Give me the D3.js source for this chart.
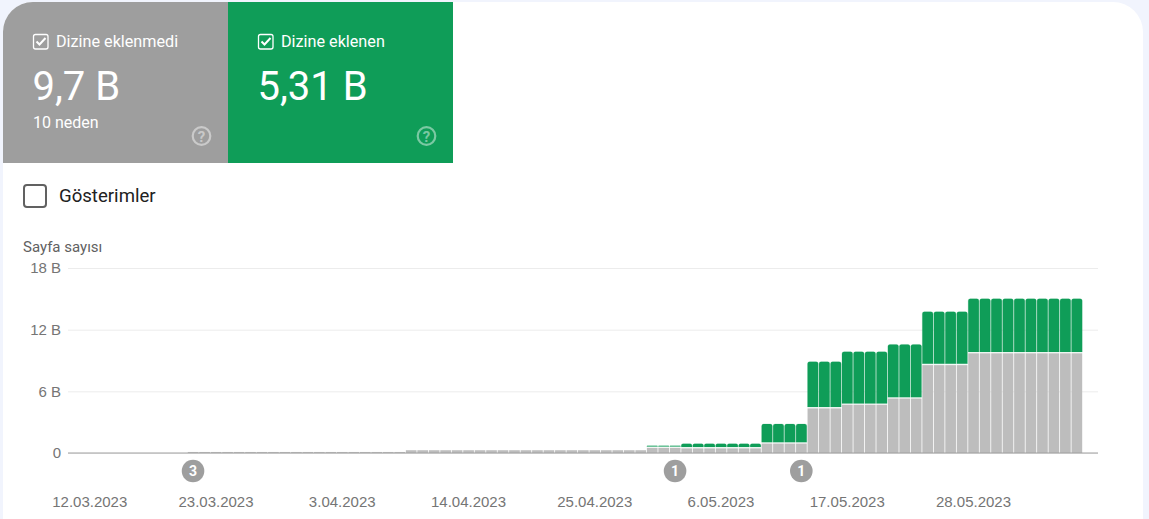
<!DOCTYPE html>
<html lang="tr">
<head>
    <meta charset="UTF-8">
    <title>Sayfa dizine ekleme</title>
    <script src="https://d3js.org/d3.v7.min.js"></script>
    <style>
        html, body { margin: 0; padding: 0; background: #f1f4fd; overflow: hidden; }
        svg { display: block; font-family: Roboto, sans-serif; }
        .y-axis text, .x-axis text { fill: #757575; font-size: 15px; }
        .y-axis line { stroke: #ececec; }
        .y-axis path, .x-axis path, .x-axis line { display: none; }
    </style>
</head>
<body>
    <svg width="1149" height="519"></svg>
    <script>
        // gunluk degerler, milyar (B), 12.03.2023 - 6.06.2023
        const days = [
            "12.03.2023","13.03.2023","14.03.2023","15.03.2023","16.03.2023","17.03.2023","18.03.2023","19.03.2023",
            "20.03.2023","21.03.2023","22.03.2023","23.03.2023","24.03.2023","25.03.2023","26.03.2023","27.03.2023",
            "28.03.2023","29.03.2023","30.03.2023","31.03.2023","1.04.2023","2.04.2023","3.04.2023","4.04.2023",
            "5.04.2023","6.04.2023","7.04.2023","8.04.2023","9.04.2023","10.04.2023","11.04.2023","12.04.2023",
            "13.04.2023","14.04.2023","15.04.2023","16.04.2023","17.04.2023","18.04.2023","19.04.2023","20.04.2023",
            "21.04.2023","22.04.2023","23.04.2023","24.04.2023","25.04.2023","26.04.2023","27.04.2023","28.04.2023",
            "29.04.2023","30.04.2023","1.05.2023","2.05.2023","3.05.2023","4.05.2023","5.05.2023","6.05.2023",
            "7.05.2023","8.05.2023","9.05.2023","10.05.2023","11.05.2023","12.05.2023","13.05.2023","14.05.2023",
            "15.05.2023","16.05.2023","17.05.2023","18.05.2023","19.05.2023","20.05.2023","21.05.2023","22.05.2023",
            "23.05.2023","24.05.2023","25.05.2023","26.05.2023","27.05.2023","28.05.2023","29.05.2023","30.05.2023",
            "31.05.2023","1.06.2023","2.06.2023","3.06.2023","4.06.2023","5.06.2023","6.06.2023"
        ];
        const notIndexed = [
            0,0,0,0,0,0,0,0,0,
            0.1,0.1,0.1,0.1,0.1,0.1,0.1,0.1,0.1,0.1,0.1,0.1,0.1,0.1,0.1,0.1,0.1,0.1,0.1,
            0.27,0.27,0.27,0.27,0.27,0.27,0.27,0.27,0.27,0.27,0.27,0.27,0.27,0.27,0.27,0.27,0.27,0.27,0.27,0.27,0.27,
            0.5,0.5,0.5,
            0.45,0.45,0.45,0.45,0.45,0.45,0.45,
            0.92,0.92,0.92,0.92,
            4.34,4.34,4.34,
            4.7,4.7,4.7,4.7,
            5.3,5.3,5.3,
            8.55,8.55,8.55,8.55,
            9.7,9.7,9.7,9.7,9.7,9.7,9.7,9.7,9.7,9.7
        ];
        const indexed = [
            0,0,0,0,0,0,0,0,0,
            0,0,0,0,0,0,0,0,0,0,0,0,0,0,0,0,0,0,0,
            0,0,0,0,0,0,0,0,0,0,0,0,0,0,0,0,0,0,0,0,0,
            0.2,0.2,0.2,
            0.45,0.45,0.45,0.45,0.45,0.45,0.45,
            1.9,1.9,1.9,1.9,
            4.55,4.55,4.55,
            5.15,5.15,5.15,5.15,
            5.26,5.26,5.26,
            5.2,5.2,5.2,5.2,
            5.31,5.31,5.31,5.31,5.31,5.31,5.31,5.31,5.31,5.31
        ];
        const yTicks = [0, 6, 12, 18];
        const xTicks = ["12.03.2023","23.03.2023","3.04.2023","14.04.2023","25.04.2023","6.05.2023","17.05.2023","28.05.2023"];
        const noteDays = ["21.03.2023", "2.05.2023", "13.05.2023"];
        const noteCounts = [3, 1, 1];
        const tiles = [
            { name: "Dizine eklenmedi", value: "9,7 B", sub: "10 neden", color: "#9e9e9e" },
            { name: "Dizine eklenen", value: "5,31 B", sub: "", color: "#0f9d58" }
        ];

        const svg = d3.select("svg");

        // kart
        svg.append("path")
            .attr("fill", "#fff")
            .attr("d", "M3,519V32a30,30 0 0 1 30,-30H1113a30,30 0 0 1 30,30V519Z");

        // ust kutular
        const tileW = 225, tileH = 161;
        const tile = svg.selectAll(".tile").data(tiles).enter().append("g")
            .attr("class", "tile")
            .attr("transform", (d, i) => `translate(${3 + i * tileW},2)`);
        tile.append("path")
            .attr("fill", d => d.color)
            .attr("d", (d, i) => i === 0
                ? `M0,${tileH}V30a30,30 0 0 1 30,-30H${tileW}V${tileH}Z`
                : `M0,0H${tileW}V${tileH}H0Z`);
        tile.append("rect").attr("x", 30.5).attr("y", 32.5).attr("width", 14.5).attr("height", 14.5).attr("rx", 2)
            .attr("fill", "none").attr("stroke", "#fff").attr("stroke-width", 1.3);
        tile.append("path").attr("d", "M33.5,39.5l3,3l6,-6.5").attr("fill", "none").attr("stroke", "#fff").attr("stroke-width", 2);
        tile.append("text").attr("x", 53).attr("y", 45).attr("fill", "#fff").attr("font-size", 16.2).text(d => d.name);
        tile.append("text").attr("x", 29.5).attr("y", 98).attr("fill", "#fff").attr("font-size", 40).text(d => d.value);
        tile.append("text").attr("x", 30).attr("y", 126).attr("fill", "#fff").attr("font-size", 16).text(d => d.sub);
        tile.append("circle").attr("cx", 198.5).attr("cy", 134).attr("r", 8.8)
            .attr("fill", "none").attr("stroke", "#fff").attr("stroke-opacity", 0.45).attr("stroke-width", 2.2);
        tile.append("text").attr("x", 198.5).attr("y", 139.5).attr("text-anchor", "middle")
            .attr("fill", "#fff").attr("fill-opacity", 0.45).attr("font-size", 15).attr("font-weight", 700).text("?");

        // gosterimler
        svg.append("rect").attr("x", 24).attr("y", 185).attr("width", 22).attr("height", 22).attr("rx", 3)
            .attr("fill", "#fff").attr("stroke", "#616161").attr("stroke-width", 2);
        svg.append("text").attr("x", 59).attr("y", 202).attr("fill", "#212121").attr("font-size", 18.6).text("Gösterimler");
        svg.append("text").attr("x", 23).attr("y", 252).attr("fill", "#616161").attr("font-size", 15).text("Sayfa sayısı");

        // olcekler
        const x = d3.scaleBand().domain(days).range([84.5, 1083]);
        const y = d3.scaleLinear().domain([0, 18]).range([453, 268]);

        svg.append("g").attr("class", "y-axis")
            .attr("transform", "translate(68,0)")
            .call(d3.axisLeft(y).tickValues(yTicks).tickSize(-1030).tickPadding(7).tickFormat(d => d === 0 ? "0" : d + " B"));

        svg.append("g").attr("class", "x-axis")
            .attr("transform", "translate(-0.5,492)")
            .call(d3.axisBottom(x).tickValues(xTicks).tickSize(0).tickPadding(4));

        const barW = x.bandwidth() - 0.8;

        // gri
        svg.selectAll(".gray").data(days).enter().append("rect")
            .attr("class", "gray")
            .attr("x", d => x(d))
            .attr("width", barW)
            .attr("y", (d, i) => y(notIndexed[i]))
            .attr("height", (d, i) => y(0) - y(notIndexed[i]))
            .attr("fill", "#bdbdbd");

        // yesil
        const gap = 1.3;
        svg.selectAll(".green").data(days.filter((d, i) => indexed[i] > 0)).enter().append("path")
            .attr("class", "green")
            .attr("fill", "#0f9d58")
            .attr("stroke", "#0f9d58")
            .attr("stroke-opacity", 0.35)
            .attr("stroke-width", 0.5)
            .attr("d", d => {
                const i = days.indexOf(d);
                const top = y(notIndexed[i] + indexed[i]);
                const bottom = y(notIndexed[i]) - gap;
                const r = Math.min(2, (bottom - top) / 2);
                return `M${x(d)},${bottom}V${top + r}q0,${-r} ${r},${-r}H${x(d) + barW - r}q${r},0 ${r},${r}V${bottom}Z`;
            });

        // taban cizgisi
        svg.append("line")
            .attr("x1", 68).attr("x2", 1098)
            .attr("y1", y(0)).attr("y2", y(0))
            .attr("stroke", "#9e9e9e").attr("stroke-width", 1);

        // notlar
        const note = svg.selectAll(".note").data(noteDays).enter().append("g")
            .attr("class", "note")
            .attr("transform", d => `translate(${x(d) + x.bandwidth() / 2 - 0.5},471)`);
        note.append("circle").attr("r", 11.3).attr("fill", "#9e9e9e");
        note.append("text").attr("y", 5).attr("text-anchor", "middle").attr("fill", "#fff")
            .attr("font-size", 14).attr("font-weight", 700).text((d, i) => noteCounts[i]);
    </script>
</body>
</html>
